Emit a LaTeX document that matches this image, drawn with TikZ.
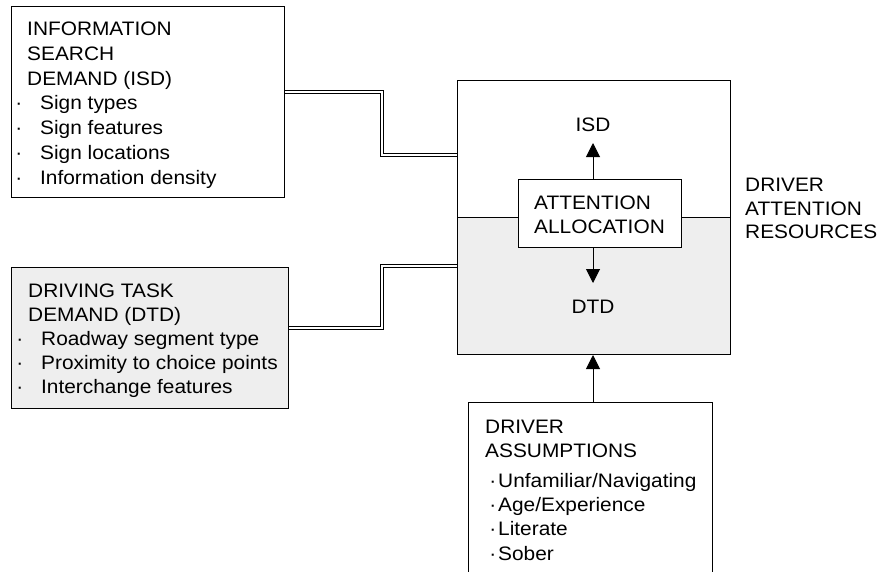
\documentclass[tikz,border=0pt]{standalone}
\usepackage{fontspec}
\setmainfont{Liberation Sans}[FakeStretch=1.07]
\usetikzlibrary{positioning,arrows.meta}

\definecolor{demandgray}{HTML}{EEEEEE}
\newcommand\itm{\hspace*{13pt}\llap{·\hspace{18pt}}}
\newcommand\itmb{\hspace*{13pt}\llap{·\hspace{2pt}}}

\tikzset{
  box/.style = {draw, line width=1pt, inner sep=0pt, anchor=north west},
  txt/.style = {inner sep=0pt, anchor=base west, align=left,
                font=\fontsize{19.5}{24.7}\selectfont},
  link/.style = {double, line width=0.8pt, double distance=2.2pt},
  pointer/.style = {line width=1pt, -{Triangle[width=14pt,length=14pt]}}
}

\begin{document}
\begin{tikzpicture}[x=1pt, y=-1pt]
  \clip (0,0) rectangle (879,571);

  % demand boxes on the left (text placed by its last baseline)
  \node[box, minimum width=273pt, minimum height=191pt] (isd box) at (11,6) {};
  \node[txt] (isd text) at (27,184) {INFORMATION\\SEARCH\\DEMAND (ISD)\\\itm Sign types\\\itm Sign features\\\itm Sign locations\\\itm Information density};
  \node[box, fill=demandgray, minimum width=277pt, minimum height=141pt] (dtd box) at (11,267) {};
  \node[txt, font=\fontsize{19.5}{23.8}\selectfont] (dtd text) at (28,393) {DRIVING TASK\\DEMAND (DTD)\\\itm Roadway segment type\\\itm Proximity to choice points\\\itm Interchange features};

  % driver attention resources
  \node[box, fill=demandgray, minimum width=273pt, minimum height=137pt] (dtd half) at (457,217) {};
  \node[box, minimum width=273pt, minimum height=274pt] (resources) at (457,80) {};
  \node[box, fill=white, minimum width=163pt, minimum height=68pt] (allocation) at (518,179) {};
  \node[txt, font=\fontsize{19.5}{24}\selectfont] (allocation text) at (534,233) {ATTENTION\\ALLOCATION};
  \node[txt, anchor=base] (isd) at (593,131.7) {ISD};
  \node[txt, anchor=base] (dtd) at (593,313) {DTD};
  \node[txt, font=\fontsize{19.5}{23.5}\selectfont] (resources text) at (745,238.5) {DRIVER\\ATTENTION\\RESOURCES};

  % driver assumptions
  \node[box, minimum width=244pt, minimum height=180pt] (assumptions) at (468,402) {};
  \node[txt, font=\fontsize{19.5}{24.2}\selectfont] (assumptions text) at (485,560) {DRIVER\\ASSUMPTIONS\\[6pt]\itmb Unfamiliar/Navigating\\\itmb Age/Experience\\\itmb Literate\\\itmb Sober};

  % connectors
  \draw[link] (isd box.east |- 0,92) -| (382,155) -- (resources.west |- 0,155);
  \draw[link] (dtd box.east |- 0,328) -| (382,266) -- (resources.west |- 0,266);
  \draw[pointer] (allocation.north -| isd) -- (593,143);
  \draw[pointer] (allocation.south -| dtd) -- (593,283);
  \draw[pointer] (assumptions.north -| dtd) -- (dtd half.south -| dtd);
\end{tikzpicture}
\end{document}
